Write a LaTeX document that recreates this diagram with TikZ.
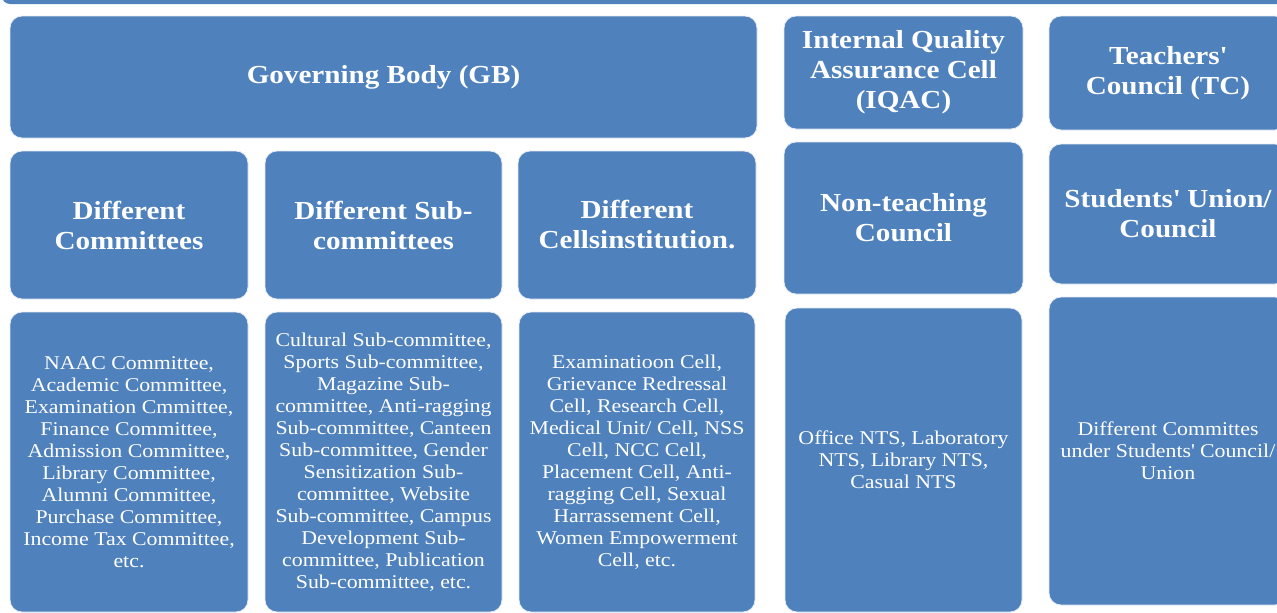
\documentclass[tikz,border=0pt]{standalone}
\usepackage{fontspec}
\setmainfont{Liberation Serif}[FakeStretch=1.12]
\definecolor{boxblue}{HTML}{4F81BD}
\newcommand{\sq}{\textquotesingle}
\tikzset{
  bluebox/.style={draw=white!85!boxblue, line width=0.8pt, fill=boxblue, rounded corners=12pt,
    text=white, align=center, inner sep=2pt},
  headbox/.style={bluebox, font=\fontsize{26}{30}\selectfont\bfseries},
  listbox/.style={bluebox, font=\fontsize{19.5}{22}\selectfont}
}
\begin{document}
\begin{tikzpicture}[x=1pt,y=-1pt]
\useasboundingbox (0,0) rectangle (1277,613);
\fill[boxblue, rounded corners=8pt] (2,-40) rectangle (1300,4);
% top row
\node[headbox, minimum width=747pt, minimum height=122pt] (gb) at (383.5,77) {Governing Body (GB)};
\node[headbox, minimum width=239pt, minimum height=113pt] (iqac) at (903.5,72.5) {Internal Quality\\Assurance Cell\\(IQAC)};
\node[headbox, minimum width=238pt, minimum height=114pt] (tc) at (1168,73) {Teachers\sq\\Council (TC)};
% second row
\node[headbox, minimum width=238pt, minimum height=148pt] (dc) at (129,225) {Different\\Committees};
\node[headbox, minimum width=237pt, minimum height=148pt] (ds) at (383.5,225) {Different Sub-\\committees};
\node[headbox, minimum width=238pt, minimum height=148pt] (dcell) at (637,225) {Different\\Cellsinstitution.};
\node[headbox, minimum width=239pt, minimum height=152pt] (ntc) at (903.5,218) {Non-teaching\\Council};
\node[headbox, minimum width=238pt, minimum height=140pt] (su) at (1168,214) {Students\sq{} Union/\\Council};
% third row
\node[listbox, minimum width=238pt, minimum height=300pt] (l1) at (129,462) {NAAC Committee,\\Academic Committee,\\Examination Cmmittee,\\Finance Committee,\\Admission Committee,\\Library Committee,\\Alumni Committee,\\Purchase Committee,\\Income Tax Committee,\\etc.};
\node[listbox, minimum width=237pt, minimum height=300pt] (l2) at (383.5,462) {Cultural Sub-committee,\\Sports Sub-committee,\\Magazine Sub-\\committee, Anti-ragging\\Sub-committee, Canteen\\Sub-committee, Gender\\Sensitization Sub-\\committee, Website\\Sub-committee, Campus\\Development Sub-\\committee, Publication\\Sub-committee, etc.};
\node[listbox, minimum width=236pt, minimum height=300pt] (l3) at (637,462) {Examinatioon Cell,\\Grievance Redressal\\Cell, Research Cell,\\Medical Unit/ Cell, NSS\\Cell, NCC Cell,\\Placement Cell, Anti-\\ragging Cell, Sexual\\Harrassement Cell,\\Women Empowerment\\Cell, etc.};
\node[listbox, minimum width=237pt, minimum height=304pt] (l4) at (903.5,460) {Office NTS, Laboratory\\NTS, Library NTS,\\Casual NTS};
\node[listbox, minimum width=238pt, minimum height=308pt] (l5) at (1168,451) {Different Committes\\under Students\sq{} Council/\\Union};
\end{tikzpicture}
\end{document}
